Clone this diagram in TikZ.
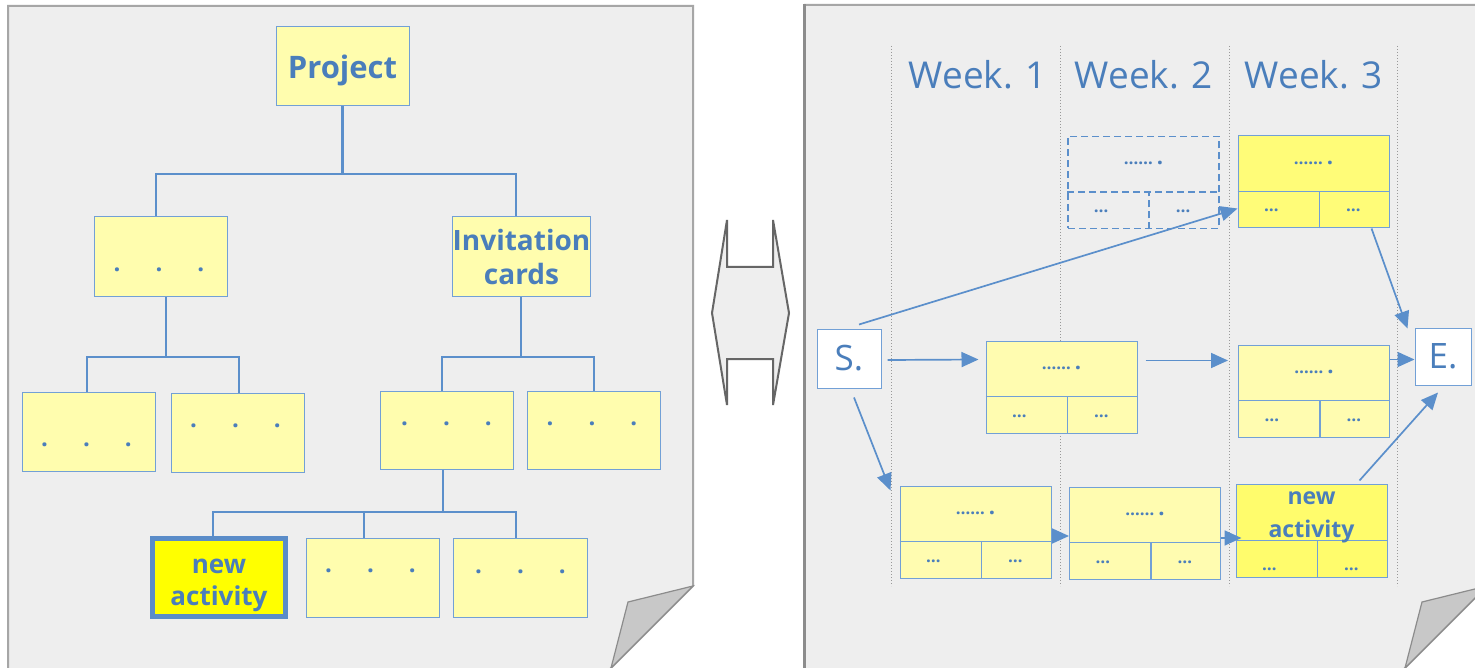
\documentclass[tikz,border=0pt]{standalone}
\usepackage{fontspec}
\setmainfont{Open Sans}
\usetikzlibrary{arrows.meta,calc}
\definecolor{tc}{HTML}{4A7EBB}
\definecolor{lc}{HTML}{5B8FCB}
\definecolor{bc}{HTML}{72A0D6}
\definecolor{pagef}{HTML}{EEEEEE}
\definecolor{pageb}{HTML}{A6A6A6}
\definecolor{curlf}{HTML}{C8C8C8}
\definecolor{curlb}{HTML}{8C8C8C}
\definecolor{pale}{HTML}{FFFDAE}
\definecolor{paleR}{HTML}{FFFCB0}
\definecolor{yelT}{HTML}{FFFC78}
\definecolor{yelB}{HTML}{FFFC6C}
\definecolor{yelL}{HTML}{FFFF00}
\definecolor{darkb}{HTML}{5A8CC8}
\definecolor{wkline}{HTML}{999999}
\definecolor{arrg}{HTML}{666666}
\newcommand\tdots{.\hspace{35pt}.\hspace{35pt}.}
\newcommand\topdots{……\hspace{4pt}{\fontsize{22}{22}\selectfont .}}
\newcommand\actbox[6]{%
  \node[abox,#4] (#1) at (#2,#3) {};
  \draw[adiv,#5] ([yshift=37pt]#1.south west) -- ([yshift=37pt]#1.south east);
  \draw[adiv,#5] ([xshift=82pt]#1.south west) -- ([xshift=82pt,yshift=37pt]#1.south west);
  \node[dtxt] (#1l) at ([xshift=34pt,yshift=#6]#1.south west) {…};
  \node[dtxt] (#1r) at ([xshift=116pt,yshift=#6]#1.south west) {…};
}
\begin{document}
\begin{tikzpicture}[x=1pt,y=-1pt,
  tbox/.style={draw=bc,line width=1pt,fill=pale,minimum width=133pt,minimum height=79pt,inner sep=0pt},
  tree/.style={draw=lc,line width=2.2pt},
  lbl/.style={text=tc,font=\fontsize{28}{34}\selectfont\bfseries,align=center,inner sep=0pt},
  tdot/.style={text=tc,font=\fontsize{24}{24}\selectfont\bfseries,anchor=base,inner sep=0pt},
  abox/.style={draw=bc,line width=1pt,minimum width=151pt,minimum height=92pt,inner sep=0pt},
  adiv/.style={draw=bc,line width=1.8pt},
  dtxt/.style={text=tc,font=\fontsize{17}{17}\selectfont\bfseries,anchor=base,inner sep=0pt},
  wk/.style={text=tc,font=\fontsize{37}{37}\selectfont,anchor=base,inner sep=0pt},
  se/.style={draw=bc,line width=1pt,fill=white,inner sep=0pt,text=tc,font=\fontsize{35}{35}\selectfont},
  arr/.style={draw=lc,line width=1.7pt,-{Triangle[length=17pt,width=15pt]}},
]
\useasboundingbox (0,0) rectangle (1475,668);
\clip (0,0) rectangle (1475,668);
% pages
\fill[white] (0,0) rectangle (1475,668);
\draw[fill=pagef,draw=pageb,line width=2pt] (8,680) -- (8,6) -- (693,6) -- (693,586) -- (599,680);
\draw[fill=curlf,draw=curlb,line width=1.2pt] (693,586) -- (628,602) -- (611,668) -- cycle;
\fill[pagef] (804,680) -- (804,5) -- (1487,5) -- (1487,586) -- (1393,680) -- cycle;
\draw[draw=pageb,line width=2pt] (804,5) -- (1487,5) -- (1487,586) -- (1393,680);
\draw[draw=curlb,line width=3pt] (804,680) -- (804,4);
\draw[fill=curlf,draw=curlb,line width=1.2pt] (1487,586) -- (1422,602) -- (1405,668) -- cycle;
% double arrow
\draw[fill=pagef,draw=arrg,line width=2pt] (712,313) -- (727,220) -- (727,267) -- (773,267) -- (773,220) -- (789,313) -- (773,405) -- (773,359) -- (727,359) -- (727,405) -- cycle;
% left tree
\node[tbox,lbl,font=\fontsize{31}{31}\selectfont\bfseries,text depth=0pt] (proj) at (342.5,66.5) {Project};
\node[tbox,minimum height=80pt] (a) at (160.5,257) {};
\node[tbox,lbl,minimum height=80pt] (b) at (521.5,257) {Invitation\\cards};
\node[tbox] (a1) at (88.5,431.5) {};
\node[tbox] (a2) at (237.5,432.5) {};
\node[tbox,minimum height=78pt] (b1) at (446.5,430) {};
\node[tbox,minimum height=78pt] (b2) at (593.5,430) {};
\node[tbox,fill=yelL,draw=darkb,line width=5pt,minimum height=78pt] (c1) at (219,577.5) {};
\node[tbox] (c2) at (372.5,577.5) {};
\node[tbox,minimum width=134pt] (c3) at (520,577.5) {};
\node[lbl,font=\fontsize{26}{32}\selectfont\bfseries] (c1t) at ($(c1.center)+(0,7.5)$) {new\\activity};
\node[tdot] (ad) at (159,271.5) {\tdots};
\node[tdot] (a1d) at (86.5,446.5) {\tdots};
\node[tdot] (a2d) at (235.5,427.5) {\tdots};
\node[tdot] (b1d) at (446.5,425.5) {\tdots};
\node[tdot] (b2d) at (592,425.5) {\tdots};
\node[tdot] (c2d) at (370.5,572.5) {\tdots};
\node[tdot] (c3d) at (520.5,573.5) {\tdots};
\coordinate (j0) at (342.5,174);
\draw[tree] (proj.south) -- (j0);
\draw[tree] (j0) -| ([xshift=-4.5pt]a.north);
\draw[tree] (j0) -| ([xshift=-5.5pt]b.north);
\coordinate (j1) at (166,357);
\draw[tree] ([xshift=5.5pt]a.south) -- (j1);
\draw[tree] (j1) -| ([xshift=-1.5pt]a1.north);
\draw[tree] (j1) -| ([xshift=1.5pt]a2.north);
\coordinate (j2) at (521,357);
\draw[tree] ([xshift=-0.5pt]b.south) -- (j2);
\draw[tree] (j2) -| ([xshift=-4.5pt]b1.north);
\draw[tree] (j2) -| ([xshift=0.5pt]b2.north);
\coordinate (j3) at (443,512);
\draw[tree] ([xshift=-3.5pt]b1.south) -- (j3);
\draw[tree] (j3) -| ([xshift=-6pt]c1.north);
\draw[tree] (j3) -| ([xshift=-8.5pt]c2.north);
\draw[tree] (j3) -| ([xshift=-4pt]c3.north);
% right schedule
\foreach \x in {891,1060,1229,1397} \draw[draw=wkline,dotted,line width=1pt] (\x,46) -- (\x,586);
\node[wk] (w1) at (978,89) {Week. 1};
\node[wk] (w2) at (1144,89) {Week. 2};
\node[wk] (w3) at (1314,89) {Week. 3};
\actbox{D}{1143.5}{182.5}{draw=lc,line width=1.8pt,dash pattern=on 7pt off 4pt}{draw=lc,dash pattern=on 7pt off 4pt}{16.5pt}
\actbox{T}{1313.5}{182}{fill=yelT}{}{16.5pt}
\actbox{M1}{1061.5}{387}{fill=paleR}{}{16.5pt}
\actbox{M2}{1314}{391}{fill=paleR}{}{16.5pt}
\actbox{B1}{975.5}{532}{fill=paleR}{}{16.5pt}
\actbox{B2}{1145}{533}{fill=paleR}{}{16.5pt}
\actbox{B3}{1311.5}{530.5}{fill=yelB,minimum height=93pt}{}{7.5pt}
\node[dtxt] (Dt) at ([yshift=-29pt]D.north) {\topdots};
\node[dtxt] (Tt) at ([yshift=-29pt]T.north) {\topdots};
\node[dtxt] (M1t) at ([yshift=-29pt]M1.north) {\topdots};
\node[dtxt] (M2t) at ([yshift=-29pt]M2.north) {\topdots};
\node[dtxt] (B1t) at ([yshift=-29pt]B1.north) {\topdots};
\node[dtxt] (B2t) at ([yshift=-29pt]B2.north) {\topdots};
\node[lbl,font=\fontsize{23}{33}\selectfont\bfseries] (B3t) at ($(B3.center)+(0,-13.5)$) {new\\activity};
\node[se,minimum width=64pt,minimum height=59pt] (S) at (849,358.5) {S.};
\node[se,minimum width=56pt,minimum height=57pt] (E) at (1443,356.5) {E.};
\draw[arr] ([xshift=10pt,yshift=4pt]S.north) -- ([yshift=20pt]T.south west);
\draw[arr] ([xshift=6pt,yshift=-1.5pt]S.east) -- ([xshift=-7pt,yshift=-19pt]M1.north west);
\draw[arr] ([xshift=8pt,yshift=-20pt]M1.north east) -- ([xshift=-10pt,yshift=-16pt]M2.north west);
\coordinate (m2e) at ([yshift=-15pt]M2.north east);
\draw[arr] (m2e) -- (m2e -| E.west);
\draw[arr] ([xshift=5pt,yshift=-9pt]S.south) -- ([xshift=-9pt,yshift=-5pt]B1.north west);
\coordinate (b1e) at ([yshift=-4pt]B1.east);
\draw[arr] (b1e) -- (b1e -| B2.west);
\coordinate (b2e) at ([yshift=-5pt]B2.east);
\coordinate (b3w) at ([xshift=6pt]B3.west);
\draw[arr] (b2e) -- (b2e -| b3w);
\draw[arr] ([xshift=48pt,yshift=3pt]B3.north) -- ([xshift=-5pt,yshift=-7pt]E.south);
\draw[arr] ([xshift=-18pt]T.south east) -- ([xshift=-7pt,yshift=-1pt]E.north west);
\end{tikzpicture}
\end{document}
